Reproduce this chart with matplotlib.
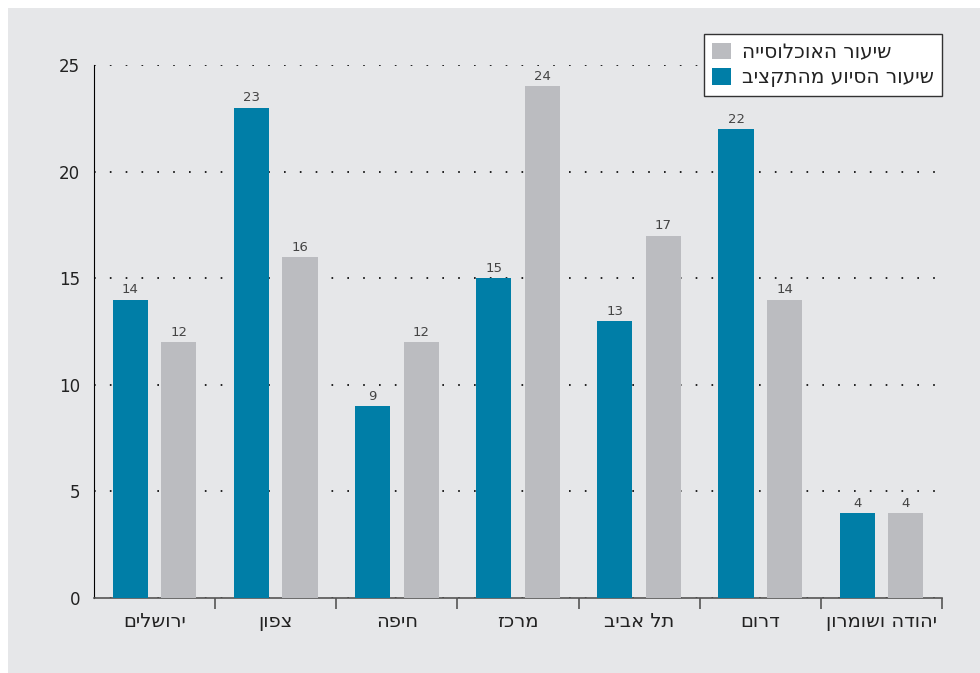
import numpy as np
import matplotlib
matplotlib.use("Agg")
import matplotlib.pyplot as plt
from matplotlib.patches import Rectangle

# נתונים
regions = ["ירושלים", "צפון", "חיפה", "מרכז", "תל אביב", "דרום", "יהודה ושומרון"]
aid_share = [14, 23, 9, 15, 13, 22, 4]
pop_share = [12, 16, 12, 24, 17, 14, 4]
label_pop = "שיעור האוכלוסייה"
label_aid = "שיעור הסיוע מהתקציב"

blue = "#007ea7"
grey = "#bbbcc0"
bg = "#e6e7e9"


def heb(s):
    # matplotlib has no bidi support, so flip Hebrew to visual order
    return s[::-1]


plt.rcParams["font.family"] = ["DejaVu Sans"]

fig = plt.figure(figsize=(9.8, 6.73), dpi=100, facecolor="white")
fig.patches.append(Rectangle((8 / 980, 0), 1, 1 - 8 / 673, transform=fig.transFigure,
                             facecolor=bg, edgecolor="none", zorder=-10))
ax = fig.add_axes([94 / 980, 75 / 673, 848 / 980, 533 / 673])
ax.set_facecolor(bg)
ax.patch.set_alpha(0)

x = np.arange(len(regions)) + 0.5
w = 0.29
off = 0.2
b1 = ax.bar(x - off, aid_share, w, color=blue, label=heb(label_aid), zorder=3)
b2 = ax.bar(x + off, pop_share, w, color=grey, label=heb(label_pop), zorder=3)

for bars in (b1, b2):
    for r in bars:
        ax.text(r.get_x() + r.get_width() / 2, r.get_height() + 0.15, str(int(r.get_height())),
                ha="center", va="bottom", fontsize=9.5, color="#444444")

ax.set_xlim(0, len(regions))
ax.set_ylim(0, 25)
ax.set_yticks([0, 5, 10, 15, 20, 25])
ax.tick_params(axis="y", length=0, labelsize=12, pad=10, colors="#222222")

ax.set_xticks(np.arange(1, len(regions) + 1))
ax.set_xticklabels([])
ax.tick_params(axis="x", length=8, width=1.2, color="#555555", direction="out")
ax.set_xticks(x, minor=True)
ax.set_xticklabels([heb(r) for r in regions], minor=True, fontsize=14, color="#222222")
ax.tick_params(axis="x", which="minor", length=0, pad=10)

ax.yaxis.grid(True, linestyle=(0, (1, 8.5)), color="black", linewidth=1.2)
ax.set_axisbelow(True)
for s in ("top", "right"):
    ax.spines[s].set_visible(False)
ax.spines["left"].set_color("black")
ax.spines["bottom"].set_color("#555555")
ax.spines["bottom"].set_linewidth(1.2)

handles, labels = ax.get_legend_handles_labels()
leg = ax.legend(handles[::-1], labels[::-1], loc="upper right",
                bbox_to_anchor=(1.0, 1.058), fontsize=14.5, framealpha=1,
                frameon=True, fancybox=False, edgecolor="#333333",
                handlelength=0.9, handleheight=0.9, borderpad=0.42,
                labelspacing=0.3, handletextpad=0.55, borderaxespad=0)
leg.get_frame().set_linewidth(1.0)
for t in leg.get_texts():
    t.set_color("#222222")

plt.savefig("out.png", dpi=100, facecolor=fig.get_facecolor())
